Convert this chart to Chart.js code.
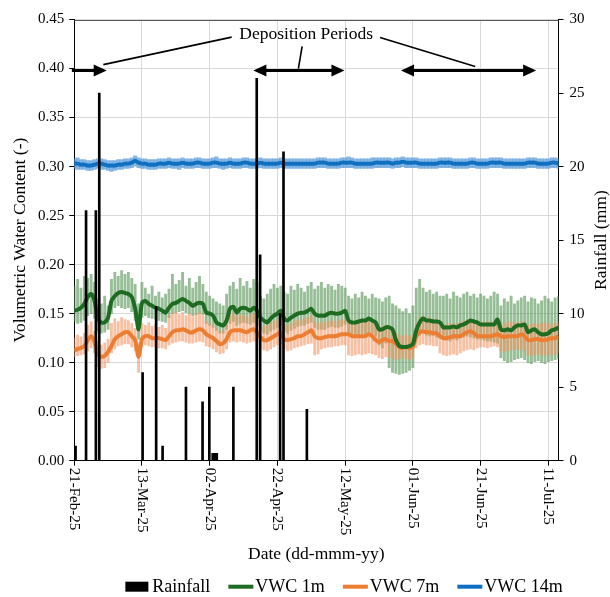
<!DOCTYPE html>
<html>
<head>
<meta charset="utf-8">
<script src="https://cdn.jsdelivr.net/npm/chart.js@4.4.1/dist/chart.umd.min.js"></script>
<style>
  body { margin: 0; background: #fff; }
  #wrap { width: 610px; height: 597px; }
</style>
</head>
<body>
<div id="wrap"><canvas id="vwcChart" width="610" height="597"></canvas></div>
<script>
// x values are days counted from 21-Feb-25 (day 0), one VWC value per day
const xTickLabels = ['21-Feb-25', '13-Mar-25', '02-Apr-25', '22-Apr-25', '12-May-25', '01-Jun-25', '21-Jun-25', '11-Jul-25'];

// rainfall events (day, mm)
const rainDay = [0.4, 3.5, 6.4, 7.4, 20.2, 24.2, 26.1, 33, 37.9, 39.9, 40.9, 41.5, 42.1, 47, 53.9, 54.9, 60.8, 61.8, 68.7];
const rainMm  = [1, 17, 17, 25, 6, 10.5, 1, 5, 4, 5, 0.5, 0.5, 0.5, 5, 26, 14, 10, 21, 3.5];

// VWC 1m - daily smoothed value and raw daily low / high
const vwc1m = [
  .153,.154,.156,.160,.167,.170,.163,.145,.141,.141,
  .146,.163,.168,.171,.172,.171,.170,.167,.155,.134,
  .161,.163,.160,.158,.156,.155,.153,.151,.156,.160,
  .161,.163,.165,.163,.161,.158,.160,.161,.160,.151,
  .150,.148,.141,.139,.138,.143,.155,.157,.151,.155,
  .156,.155,.153,.156,.153,.146,.143,.141,.145,.148,
  .150,.153,.145,.143,.146,.148,.150,.151,.151,.153,
  .155,.150,.148,.148,.148,.150,.151,.150,.150,.151,
  .153,.143,.141,.141,.142,.143,.143,.145,.143,.141,
  .134,.134,.136,.136,.134,.123,.117,.116,.116,.117,
  .119,.133,.141,.145,.143,.143,.142,.142,.141,.136,
  .136,.136,.137,.136,.138,.139,.141,.143,.142,.141,
  .139,.139,.139,.139,.139,.144,.134,.133,.134,.133,
  .136,.138,.138,.139,.131,.133,.134,.131,.129,.129,
  .130,.133,.134,.136
];
const vwc1mLow = [
  .142,.140,.141,.143,.148,.150,.145,
  .132,.130,.131,.134,
  .150,.156,.158,.156,.155,.156,.152,.143,
  .124,
  .146,.148,.146,.145,.144,.143,.142,.141,
  .146,.150,.151,.152,.153,.151,.150,.148,.149,.150,.149,
  .140,.138,.136,.133,.130,.130,.134,
  .140,.142,.138,.140,.141,.140,.139,.141,.139,
  .133,.130,.129,.132,.134,.136,.138,
  .132,.130,.133,.135,.137,.138,.138,.140,.141,
  .136,.134,.134,.134,.136,.137,.136,.136,.137,.139,
  .128,.126,.127,.128,.129,.128,.130,.129,.127,
  .118,.115,.120,.095,.090,.089,.088,.089,.090,.092,.095,
  .125,.128,.130,.128,.127,.128,.126,.125,
  .124,.123,.122,.124,.123,.125,.126,.127,.126,.125,.124,.124,.123,.122,.122,.121,.120,
  .105,.102,.100,.101,.103,.104,.105,.103,
  .100,.099,.101,.102,.100,.099,.101,.102,.103,.104
];
const vwc1mHigh = [
  .178,.185,.176,.188,.186,.190,.182,
  .165,.160,.168,.158,
  .185,.192,.188,.194,.190,.192,.186,.180,
  .160,
  .182,.176,.170,.178,.168,.172,.166,.170,
  .175,.190,.180,.184,.192,.178,.186,.176,.182,.188,.180,
  .172,.168,.165,.162,.160,.158,.170,
  .178,.182,.175,.186,.178,.183,.176,.185,.182,
  .168,.165,.170,.175,.180,.176,.178,
  .172,.170,.178,.174,.180,.176,.172,.178,.182,
  .175,.178,.182,.176,.180,.178,.174,.180,.178,.176,
  .168,.165,.170,.166,.172,.168,.165,.170,.166,
  .165,.162,.166,.168,.160,.158,.155,.152,.155,.150,.158,
  .176,.185,.176,.172,.174,.170,.172,.168,
  .168,.170,.165,.172,.168,.166,.170,.172,.168,.170,.166,.170,.168,.165,.168,.172,.170,
  .158,.165,.162,.168,.160,.163,.166,.168,
  .162,.166,.165,.160,.163,.168,.165,.162,.166,.168
];

// VWC 7m
const vwc7m = [
  .112,.114,.115,.117,.123,.127,.121,.109,.106,.107,
  .111,.117,.124,.127,.129,.131,.131,.127,.123,.106,
  .124,.127,.127,.125,.125,.125,.124,.123,.127,.131,
  .133,.133,.134,.133,.131,.131,.133,.134,.133,.129,
  .127,.125,.122,.119,.120,.124,.131,.133,.133,.133,
  .132,.131,.133,.134,.131,.126,.123,.123,.125,.127,
  .129,.131,.124,.123,.124,.125,.127,.127,.129,.131,
  .133,.127,.125,.125,.126,.127,.127,.127,.128,.129,
  .129,.129,.127,.127,.127,.127,.127,.129,.127,.123,
  .121,.123,.124,.122,.122,.119,.116,.115,.116,.115,
  .116,.127,.131,.132,.131,.131,.130,.130,.127,.125,
  .125,.126,.127,.127,.127,.129,.131,.132,.130,.127,
  .127,.127,.127,.127,.128,.129,.127,.126,.127,.127,
  .127,.127,.129,.127,.123,.123,.124,.124,.123,.123,
  .124,.125,.125,.127
];
const vwc7mLow = [
  .106,.107,.108,.109,.112,.115,.110,
  .096,.094,.095,.100,
  .110,.114,.117,.118,.119,.119,.116,.112,
  .090,
  .116,.118,.117,.116,.116,.115,.115,.114,
  .118,.120,.121,.122,.122,.121,.120,.120,.121,.122,.121,
  .117,.116,.114,.111,.109,.110,.114,
  .121,.122,.121,.122,.121,.120,.121,.122,.120,
  .115,.113,.112,.114,.116,.118,.119,
  .114,.112,.113,.115,.116,.117,.118,.119,.120,
  .108,.109,.114,.115,.116,.116,.117,.117,.118,.118,
  .108,.107,.108,.109,.108,.109,.110,.109,.108,
  .105,.104,.106,.105,.104,.103,.104,.105,.104,.103,.105,
  .115,.118,.119,.118,.118,.117,.117,.110,
  .108,.107,.108,.109,.108,.110,.112,.113,.114,.113,.115,.116,.116,.115,.116,.117,.116,
  .112,.111,.112,.113,.114,.113,.114,.112,
  .108,.107,.108,.109,.108,.107,.109,.108,.109,.110
];
const vwc7mHigh = [
  .125,.128,.126,.130,.138,.142,.132,
  .122,.118,.120,.124,
  .140,.145,.142,.146,.144,.143,.140,.135,
  .120,
  .140,.138,.141,.137,.139,.136,.138,.135,
  .148,.150,.152,.149,.151,.148,.150,.147,.149,.151,.148,
  .142,.140,.138,.135,.132,.133,.138,
  .148,.150,.147,.149,.148,.146,.149,.150,.147,
  .140,.137,.138,.140,.142,.144,.146,
  .140,.138,.140,.142,.143,.144,.145,.146,.148,
  .142,.140,.141,.142,.142,.143,.142,.143,.144,.144,
  .144,.142,.142,.141,.142,.141,.143,.142,.138,
  .136,.137,.138,.135,.134,.130,.128,.127,.128,.127,.128,
  .140,.146,.147,.145,.146,.144,.145,.142,
  .138,.139,.140,.139,.140,.141,.142,.143,.144,.143,.142,.142,.141,.142,.141,.142,.143,
  .141,.140,.141,.142,.141,.140,.142,.141,
  .138,.139,.140,.139,.140,.141,.140,.139,.141,.142
];

// VWC 14m
const vwc14m = [
  .303,.303,.302,.302,.301,.301,.302,.303,.303,.302,
  .301,.301,.301,.302,.302,.303,.303,.304,.306,.304,
  .303,.303,.302,.302,.302,.303,.303,.303,.304,.303,
  .303,.303,.304,.303,.303,.303,.304,.304,.303,.303,
  .303,.304,.304,.303,.303,.303,.304,.303,.303,.303,
  .304,.304,.303,.303,.303,.304,.303,.303,.303,.303,
  .303,.304,.303,.303,.303,.303,.303,.303,.303,.303,
  .303,.303,.304,.304,.304,.303,.303,.303,.303,.304,
  .304,.304,.304,.303,.303,.303,.303,.303,.303,.304,
  .304,.304,.304,.304,.303,.304,.304,.305,.304,.304,
  .304,.304,.303,.303,.303,.303,.303,.303,.304,.304,
  .304,.304,.303,.303,.303,.303,.303,.304,.304,.303,
  .303,.303,.303,.304,.304,.304,.304,.303,.303,.303,
  .303,.303,.303,.303,.304,.304,.304,.303,.303,.303,
  .303,.304,.304,.303
];
const vwc14mLow = [
  .298,.297,.297,.297,.296,.296,.297,.298,.297,.297,
  .296,.295,.296,.297,.297,.298,.298,.299,.301,.299,
  .298,.298,.297,.297,.297,.298,.298,.298,.299,.298,
  .298,.297,.299,.298,.298,.298,.299,.299,.298,.298,
  .298,.299,.299,.298,.297,.298,.299,.298,.298,.298,
  .299,.299,.298,.298,.298,.299,.298,.298,.298,.298,
  .298,.299,.298,.298,.298,.298,.298,.298,.298,.298,
  .298,.298,.299,.299,.299,.298,.298,.298,.298,.299,
  .299,.299,.299,.298,.298,.298,.298,.298,.298,.299,
  .299,.299,.299,.299,.298,.299,.299,.300,.299,.299,
  .299,.299,.298,.298,.298,.298,.298,.298,.299,.299,
  .299,.299,.298,.298,.298,.298,.298,.299,.299,.298,
  .298,.298,.298,.299,.299,.299,.299,.298,.298,.298,
  .298,.298,.298,.298,.299,.299,.299,.298,.298,.298,
  .298,.299,.299,.298
];
const vwc14mHigh = [
  .308,.309,.307,.307,.306,.306,.307,.308,.308,.307,
  .306,.306,.306,.307,.307,.308,.308,.309,.311,.309,
  .308,.308,.307,.307,.307,.308,.308,.308,.309,.308,
  .308,.308,.309,.308,.308,.308,.309,.309,.308,.308,
  .308,.309,.310,.308,.308,.308,.309,.308,.308,.308,
  .309,.309,.308,.308,.308,.309,.308,.308,.308,.308,
  .308,.309,.308,.308,.308,.308,.308,.308,.308,.308,
  .308,.308,.309,.309,.309,.308,.308,.308,.308,.309,
  .309,.310,.309,.308,.308,.308,.308,.308,.309,.309,
  .309,.309,.309,.309,.308,.309,.309,.310,.309,.309,
  .309,.309,.308,.308,.308,.308,.308,.308,.309,.309,
  .309,.309,.308,.308,.308,.308,.308,.309,.309,.308,
  .308,.308,.308,.309,.309,.309,.309,.308,.308,.308,
  .308,.308,.308,.308,.309,.309,.309,.308,.308,.308,
  .308,.309,.309,.308
];

// deposition periods [start day, end day], arrows drawn at this VWC level
const depositionPeriods = [[-0.7, 9.6], [52.9, 79.8], [96.5, 136.4]];
const arrowLevel = 0.398;

function toPoints(values) {
  return values.map((v, i) => ({ x: i, y: v }));
}

function toRange(lo, hi) {
  return lo.map((v, i) => ({ x: i, y: [v, hi[i]] }));
}

const serif = '"Liberation Serif", "Times New Roman", serif';

const decorPlugin = {
  id: 'decor',
  afterDraw(chart) {
    const ctx = chart.ctx;
    const a = chart.chartArea;
    const x = chart.scales.x;
    const y = chart.scales.y;
    ctx.save();

    // top border of plot area
    ctx.strokeStyle = '#595959';
    ctx.lineWidth = 1;
    ctx.beginPath();
    ctx.moveTo(a.left, Math.round(a.top) + 0.5);
    ctx.lineTo(a.right, Math.round(a.top) + 0.5);
    ctx.stroke();

    // rotated date labels
    ctx.fillStyle = '#000';
    ctx.font = '15px ' + serif;
    x.ticks.forEach(t => {
      const px = x.getPixelForValue(t.value);
      ctx.save();
      ctx.translate(px, a.bottom + 7);
      ctx.rotate(Math.PI / 2);
      ctx.textAlign = 'left';
      ctx.textBaseline = 'middle';
      ctx.fillText(xTickLabels[Math.round(t.value / 20)], 0, 0);
      ctx.restore();
    });

    // axis titles
    ctx.font = '17.5px ' + serif;
    ctx.textAlign = 'center';
    ctx.textBaseline = 'middle';
    ctx.fillText('Date (dd-mmm-yy)', (a.left + a.right) / 2, a.bottom + 94);
    const midY = (a.top + a.bottom) / 2;
    ctx.save();
    ctx.translate(20, midY);
    ctx.rotate(-Math.PI / 2);
    ctx.fillText('Volumetric Water Content (-)', 0, 0);
    ctx.restore();
    ctx.save();
    ctx.translate(chart.width - 9, midY);
    ctx.rotate(-Math.PI / 2);
    ctx.fillText('Rainfall (mm)', 0, 0);
    ctx.restore();

    // deposition period arrows
    const head = 13, half = 6;
    const py = y.getPixelForValue(arrowLevel);
    ctx.strokeStyle = '#000';
    ctx.lineWidth = 3;
    depositionPeriods.forEach(p => {
      const x1 = x.getPixelForValue(p[0]);
      const x2 = x.getPixelForValue(p[1]);
      const leftHead = p[0] > 0;
      ctx.beginPath();
      ctx.moveTo(leftHead ? x1 + head - 1 : Math.max(x1, 0), py);
      ctx.lineTo(x2 - head + 1, py);
      ctx.stroke();
      ctx.beginPath();
      ctx.moveTo(x2, py);
      ctx.lineTo(x2 - head, py - half);
      ctx.lineTo(x2 - head, py + half);
      ctx.closePath();
      ctx.fill();
      if (leftHead) {
        ctx.beginPath();
        ctx.moveTo(x1, py);
        ctx.lineTo(x1 + head, py - half);
        ctx.lineTo(x1 + head, py + half);
        ctx.closePath();
        ctx.fill();
      }
    });

    // label and leader lines
    ctx.fillText('Deposition Periods', x.getPixelForValue(68.5), y.getPixelForValue(0.435));
    ctx.lineWidth = 1.6;
    const leaders = [
      [46.5, 0.432, 8.6, 0.404],
      [67.3, 0.4225, 66.2, 0.400],
      [90.3, 0.4316, 118.4, 0.402]
    ];
    leaders.forEach(l => {
      ctx.beginPath();
      ctx.moveTo(x.getPixelForValue(l[0]), y.getPixelForValue(l[1]));
      ctx.lineTo(x.getPixelForValue(l[2]), y.getPixelForValue(l[3]));
      ctx.stroke();
    });

    // legend
    const items = [
      { label: 'Rainfall', color: '#000', box: true },
      { label: 'VWC 1m', color: '#1e6b22' },
      { label: 'VWC 7m', color: '#ed7d31' },
      { label: 'VWC 14m', color: '#0f6fc0' }
    ];
    ctx.font = '18px ' + serif;
    ctx.textAlign = 'left';
    const sample = 25, gap = 2, spacing = 18;
    let total = 0;
    items.forEach((it, i) => {
      it.w = sample + gap + ctx.measureText(it.label).width;
      total += it.w + (i ? spacing : 0);
    });
    let lx = (a.left + chart.width) / 2 - total / 2 + 2;
    const ly = a.bottom + 126;
    items.forEach(it => {
      ctx.fillStyle = it.color;
      if (it.box) {
        ctx.fillRect(lx, ly - 5, sample - 2, 10);
      } else {
        ctx.fillRect(lx, ly - 2, sample, 4);
      }
      ctx.fillStyle = '#000';
      ctx.fillText(it.label, lx + sample + gap, ly + 1);
      lx += it.w + spacing;
    });

    ctx.restore();
  }
};

const ctx = document.getElementById('vwcChart').getContext('2d');
new Chart(ctx, {
  type: 'bar',
  data: {
    datasets: [
      {
        type: 'bar',
        label: 'Rainfall',
        data: rainDay.map((d, i) => ({ x: d, y: rainMm[i] })),
        yAxisID: 'yR',
        backgroundColor: '#000',
        barThickness: 2,
        grouped: false,
        order: 0
      },
      {
        type: 'line',
        label: 'VWC 1m',
        data: toPoints(vwc1m),
        yAxisID: 'y',
        borderColor: '#1e6b22',
        borderWidth: 4,
        pointRadius: 0,
        tension: 0.25,
        order: 1
      },
      {
        type: 'line',
        label: 'VWC 7m',
        data: toPoints(vwc7m),
        yAxisID: 'y',
        borderColor: '#ed7d31',
        borderWidth: 4,
        pointRadius: 0,
        tension: 0.25,
        order: 1
      },
      {
        type: 'line',
        label: 'VWC 14m',
        data: toPoints(vwc14m),
        yAxisID: 'y',
        borderColor: '#0f6fc0',
        borderWidth: 4,
        pointRadius: 0,
        tension: 0.25,
        order: 1
      },
      {
        type: 'bar',
        label: 'VWC 1m raw',
        data: toRange(vwc1mLow, vwc1mHigh),
        yAxisID: 'y',
        backgroundColor: 'rgba(95,155,95,0.65)',
        barThickness: 2.2,
        grouped: false,
        order: 4
      },
      {
        type: 'bar',
        label: 'VWC 7m raw',
        data: toRange(vwc7mLow, vwc7mHigh),
        yAxisID: 'y',
        backgroundColor: 'rgba(242,150,100,0.6)',
        barThickness: 2.2,
        grouped: false,
        order: 3
      },
      {
        type: 'bar',
        label: 'VWC 14m raw',
        data: toRange(vwc14mLow, vwc14mHigh),
        yAxisID: 'y',
        backgroundColor: 'rgba(95,160,220,0.75)',
        barThickness: 3.4,
        grouped: false,
        order: 3
      }
    ]
  },
  options: {
    responsive: false,
    animation: false,
    devicePixelRatio: 1,
    events: [],
    layout: { padding: { top: 19.5, left: 0, right: 0, bottom: 0 } },
    plugins: {
      legend: { display: false },
      tooltip: { enabled: false }
    },
    scales: {
      x: {
        type: 'linear',
        min: 0,
        max: 143,
        offset: false,
        grid: { color: '#d9d9d9', tickColor: '#000', tickLength: 5, offset: false },
        border: { color: '#000' },
        ticks: { display: false, stepSize: 20, includeBounds: false },
        afterBuildTicks: s => { s.ticks = s.ticks.filter(t => t.value % 20 === 0); },
        afterFit: s => { s.height = 136.3; }
      },
      y: {
        position: 'left',
        min: 0,
        max: 0.45,
        grid: { color: '#d9d9d9', tickColor: '#000', tickLength: 5 },
        border: { color: '#000' },
        ticks: {
          stepSize: 0.05,
          padding: 5,
          color: '#000',
          font: { family: serif, size: 15 },
          callback: v => v.toFixed(2)
        },
        afterFit: s => { s.width = 74.2; }
      },
      yR: {
        position: 'right',
        min: 0,
        max: 30,
        grid: { drawOnChartArea: false, tickColor: '#000', tickLength: 5 },
        border: { color: '#000' },
        ticks: {
          stepSize: 5,
          padding: 6,
          color: '#000',
          font: { family: serif, size: 15 }
        },
        afterFit: s => { s.width = 51.5; }
      }
    }
  },
  plugins: [decorPlugin]
});
</script>
</body>
</html>
